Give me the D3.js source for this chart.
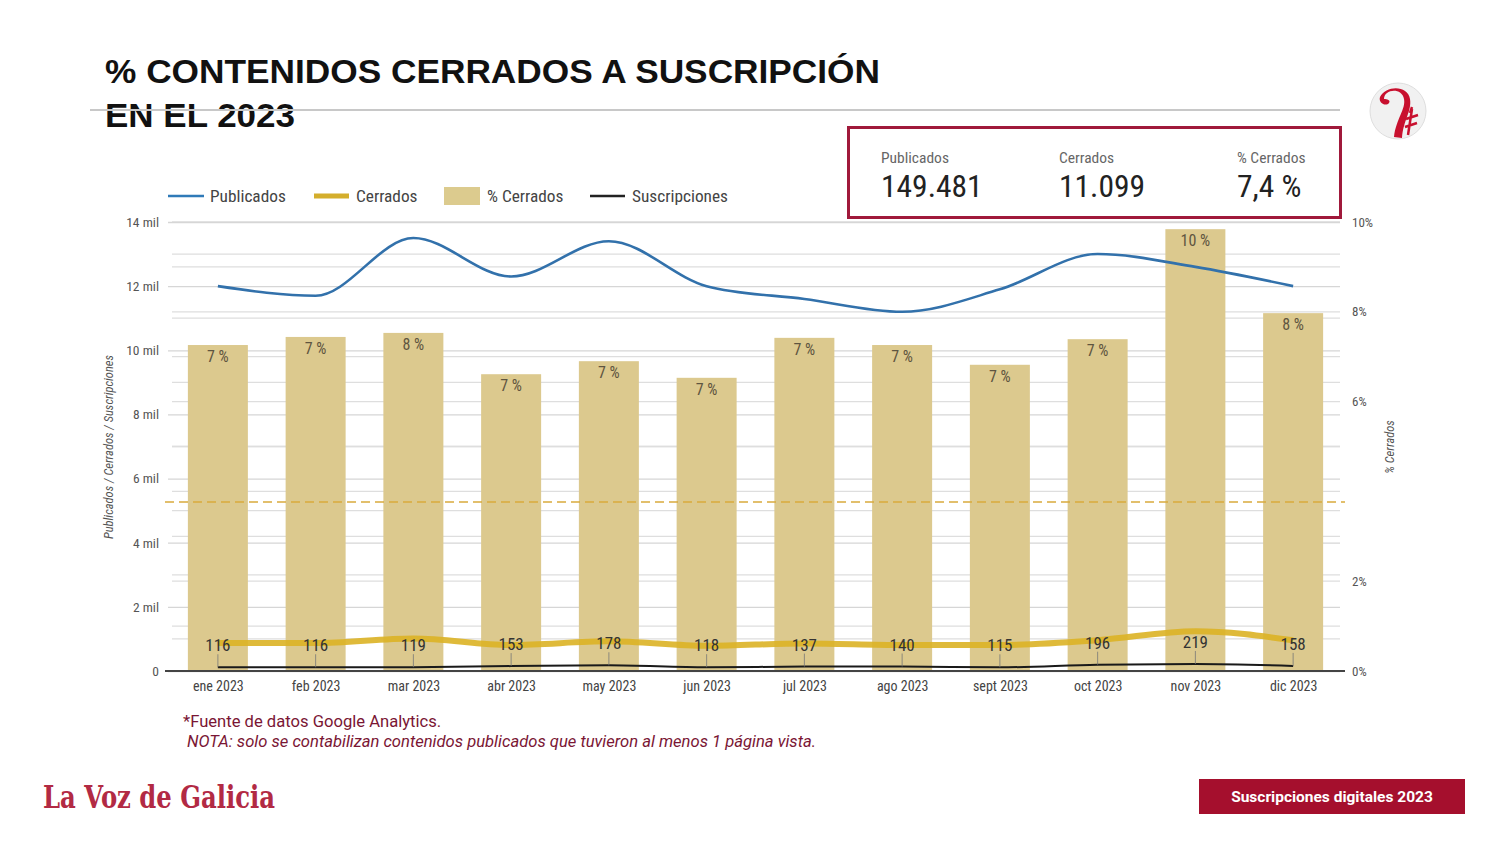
<!DOCTYPE html>
<html>
<head>
<meta charset="utf-8">
<script src="https://cdn.jsdelivr.net/npm/d3@7"></script>
<style>
  html, body { margin: 0; padding: 0; background: #fff; }
  svg { display: block; }
</style>
</head>
<body>
<svg id="chart" width="1500" height="844"></svg>
<script>
// ---------- DATA ----------
const months = ["ene 2023","feb 2023","mar 2023","abr 2023","may 2023","jun 2023","jul 2023","ago 2023","sept 2023","oct 2023","nov 2023","dic 2023"];
const publicados = [12000,11700,13500,12300,13400,12000,11600,11200,11900,13000,12600,12000];
const cerrados = [871,870,1017,813,925,784,861,813,812,961,1240,956];
const pctCerrados = [7.26,7.44,7.53,6.61,6.90,6.53,7.42,7.26,6.82,7.39,9.84,7.97];
const pctLabels = ["7 %","7 %","8 %","7 %","7 %","7 %","7 %","7 %","7 %","7 %","10 %","8 %"];
const suscripciones = [116,116,119,153,178,118,137,140,115,196,219,158];
const leftTicks = [0,2000,4000,6000,8000,10000,12000,14000];
const leftMinor = [1000,3000,5000,7000,9000,11000,13000];
const rightTicks = [0,2,6,8,10];
const rightGrid = [1,2,3,4,5,6,7,8,9,10];
const refLine = 5270; // dashed reference line (left axis units)
const kpiLabels = ["Publicados","Cerrados","% Cerrados"];
const kpiValues = ["149.481","11.099","7,4 %"];
const legendItems = ["Publicados","Cerrados","% Cerrados","Suscripciones"];

// ---------- SETUP ----------
const svg = d3.select("#chart");
const COND = '"Roboto Condensed", "Liberation Sans Narrow", "Roboto", sans-serif';

const x = d3.scalePoint().domain(months).range([169, 1342]).padding(0.5);
const barW = 60;
const yL = d3.scaleLinear().domain([0,14000]).range([671,222]);
const yR = d3.scaleLinear().domain([0,10]).range([671,222]);

// ---------- TITLE ----------
const title = svg.append("g").attr("font-family","'Liberation Sans', Arial, sans-serif").attr("font-weight","bold").attr("fill","#111");
title.append("text").attr("x",105).attr("y",83).attr("font-size",34)
  .attr("textLength",775).attr("lengthAdjust","spacingAndGlyphs").text("% CONTENIDOS CERRADOS A SUSCRIPCIÓN");
title.append("text").attr("x",105).attr("y",127).attr("font-size",34)
  .attr("textLength",190).attr("lengthAdjust","spacingAndGlyphs").text("EN EL 2023");
svg.append("line").attr("x1",90).attr("x2",1340).attr("y1",110).attr("y2",110)
  .attr("stroke","#c8c8c8").attr("stroke-width",2);

// logo circle
const lg = svg.append("g").attr("transform","translate(1398,111)");
lg.append("circle").attr("r",28).attr("fill","#f1f1f1").attr("stroke","#dedede");
lg.append("path").attr("d","M-14,-12 C-14,-22 4,-24 6,-12 C8,-2 -2,8 -4,26 L4,27 C5,10 14,0 12,-12 C10,-26 -12,-26 -18,-14 C-20,-8 -12,-4 -9,-8 C-7,-11 -11,-12 -14,-12 Z")
  .attr("fill","#c8102e");
lg.append("path").attr("d","M12,2 L14,-4 M8,8 L20,4 M7,16 L19,12 M14,-2 L10,24")
  .attr("stroke","#c8102e").attr("stroke-width",2.5);

// ---------- GRID ----------
const grid = svg.append("g");
grid.selectAll("line.gl").data(leftMinor).join("line")
  .attr("x1",172).attr("x2",1340).attr("y1",d=>yL(d)).attr("y2",d=>yL(d))
  .attr("stroke","#dedede").attr("stroke-width",1.3);
grid.selectAll("line.gr").data(rightGrid).join("line")
  .attr("x1",172).attr("x2",1340).attr("y1",d=>yR(d)).attr("y2",d=>yR(d))
  .attr("stroke","#dedede").attr("stroke-width",1.3);

// left axis
const axL = d3.axisLeft(yL).tickValues(leftTicks).tickSize(-1172).tickPadding(9)
  .tickFormat(d => d === 0 ? "0" : (d/1000) + " mil");
const gL = svg.append("g").attr("transform","translate(168,0)").call(axL);
gL.select(".domain").remove();
gL.selectAll(".tick line").attr("stroke","#d6d6d6").attr("stroke-width",1.3);
gL.selectAll(".tick text").attr("font-family",COND).attr("font-size",13.5).attr("fill","#555");

// right axis
const axR = d3.axisRight(yR).tickValues(rightTicks).tickSize(0).tickPadding(12)
  .tickFormat(d => d + "%");
const gR = svg.append("g").attr("transform","translate(1340,0)").call(axR);
gR.select(".domain").remove();
gR.selectAll(".tick text").attr("font-family",COND).attr("font-size",13).attr("fill","#555");

// axis titles
svg.append("text").attr("transform","translate(113,447) rotate(-90)")
  .attr("text-anchor","middle").attr("font-family",COND).attr("font-size",12.5)
  .attr("font-style","italic").attr("fill","#555").text("Publicados / Cerrados / Suscripciones");
svg.append("text").attr("transform","translate(1394,447) rotate(-90)")
  .attr("text-anchor","middle").attr("font-family",COND).attr("font-size",12.5)
  .attr("font-style","italic").attr("fill","#555").text("% Cerrados");

// ---------- BARS ----------
svg.append("g").selectAll("rect").data(pctCerrados).join("rect")
  .attr("x",(d,i)=>x(months[i]) - barW/2).attr("width",barW)
  .attr("y",d=>yR(d)).attr("height",d=>yR(0)-yR(d))
  .attr("fill","#dcc98e");

svg.append("g").selectAll("text").data(pctLabels).join("text")
  .attr("x",(d,i)=>x(months[i])).attr("y",(d,i)=>yR(pctCerrados[i]) + 17)
  .attr("text-anchor","middle").attr("font-family",COND).attr("font-size",16)
  .attr("fill","#5f5540").text(d=>d);

// dashed reference
svg.append("line").attr("x1",165).attr("x2",1345).attr("y1",yL(refLine)).attr("y2",yL(refLine))
  .attr("stroke","#d9ab3c").attr("stroke-width",1.6).attr("stroke-dasharray","9,5");

// x baseline
svg.append("line").attr("x1",165).attr("x2",1345).attr("y1",yL(0)).attr("y2",yL(0))
  .attr("stroke","#444").attr("stroke-width",1.8);

// x axis labels
const axX = d3.axisBottom(x).tickSize(0).tickPadding(10);
const gX = svg.append("g").attr("transform",`translate(0,${yL(0)})`).call(axX);
gX.select(".domain").remove();
gX.selectAll(".tick text").attr("font-family",COND).attr("font-size",14).attr("fill","#444");

// ---------- LINES ----------
const lineGen = (arr) => d3.line().x((d,i)=>x(months[i])).y(d=>yL(d)).curve(d3.curveMonotoneX)(arr);

svg.append("path").attr("d",lineGen(publicados)).attr("fill","none")
  .attr("stroke","#3271ab").attr("stroke-width",2.6);
svg.append("path").attr("d",lineGen(cerrados)).attr("fill","none")
  .attr("stroke","#dbb325").attr("stroke-opacity",0.9).attr("stroke-width",6);
svg.append("path").attr("d",lineGen(suscripciones)).attr("fill","none")
  .attr("stroke","#1a1a1a").attr("stroke-width",2);

// suscripciones labels + leaders
const sl = svg.append("g");
sl.selectAll("line").data(suscripciones).join("line")
  .attr("x1",(d,i)=>x(months[i])).attr("x2",(d,i)=>x(months[i]))
  .attr("y1",d=>yL(d)-13).attr("y2",d=>yL(d))
  .attr("stroke","#777").attr("stroke-width",0.8);
sl.selectAll("text").data(suscripciones).join("text")
  .attr("x",(d,i)=>x(months[i])).attr("y",d=>yL(d)-16)
  .attr("text-anchor","middle").attr("font-family",COND).attr("font-size",17)
  .attr("fill","#333").text(d=>d);

// ---------- LEGEND ----------
const leg = svg.append("g").attr("font-family",COND).attr("font-size",17.3).attr("fill","#444");
leg.append("line").attr("x1",168).attr("x2",204).attr("y1",196).attr("y2",196).attr("stroke","#2f7ab8").attr("stroke-width",2.5);
leg.append("text").attr("x",210).attr("y",202).text(legendItems[0]);
leg.append("line").attr("x1",314).attr("x2",349).attr("y1",196).attr("y2",196).attr("stroke","#d4ae2c").attr("stroke-width",5);
leg.append("text").attr("x",356).attr("y",202).text(legendItems[1]);
leg.append("rect").attr("x",444).attr("y",187).attr("width",36).attr("height",18).attr("fill","#dccb8e");
leg.append("text").attr("x",487).attr("y",202).text(legendItems[2]);
leg.append("line").attr("x1",590).attr("x2",625).attr("y1",196).attr("y2",196).attr("stroke","#222").attr("stroke-width",2.5);
leg.append("text").attr("x",632).attr("y",202).text(legendItems[3]);

// ---------- KPI BOX ----------
svg.append("rect").attr("x",848.5).attr("y",127.5).attr("width",492).attr("height",90)
  .attr("fill","#fff").attr("stroke","#a0193b").attr("stroke-width",3);
const kx = [881,1059,1237];
svg.append("g").selectAll("text").data(kpiLabels).join("text")
  .attr("x",(d,i)=>kx[i]).attr("y",163).attr("font-family",COND).attr("font-size",15.5)
  .attr("fill","#666").text(d=>d);
svg.append("g").selectAll("text").data(kpiValues).join("text")
  .attr("x",(d,i)=>kx[i]).attr("y",197).attr("font-family",COND).attr("font-size",31.5)
  .attr("fill","#222").text(d=>d);

// ---------- FOOTER ----------
svg.append("text").attr("x",183).attr("y",727).attr("font-family","Roboto, sans-serif").attr("font-size",16.6)
  .attr("fill","#7a1634").text("*Fuente de datos Google Analytics.");
svg.append("text").attr("x",187).attr("y",747).attr("font-family","Roboto, sans-serif").attr("font-size",16.6)
  .attr("font-style","italic").attr("fill","#7a1634").text("NOTA: solo se contabilizan contenidos publicados que tuvieron al menos 1 página vista.");

svg.append("text").attr("x",43).attr("y",808).attr("font-family","'DejaVu Serif', serif").attr("font-size",32)
  .attr("font-weight","bold").attr("fill","#b22a44")
  .attr("textLength",232).attr("lengthAdjust","spacingAndGlyphs").text("La Voz de Galicia");

svg.append("rect").attr("x",1199).attr("y",779).attr("width",266).attr("height",35).attr("fill","#a50f2d");
svg.append("text").attr("x",1332).attr("y",802).attr("text-anchor","middle")
  .attr("font-family","Roboto, sans-serif").attr("font-weight","bold").attr("font-size",15.5)
  .attr("fill","#fff").text("Suscripciones digitales 2023");
</script>
</body>
</html>
